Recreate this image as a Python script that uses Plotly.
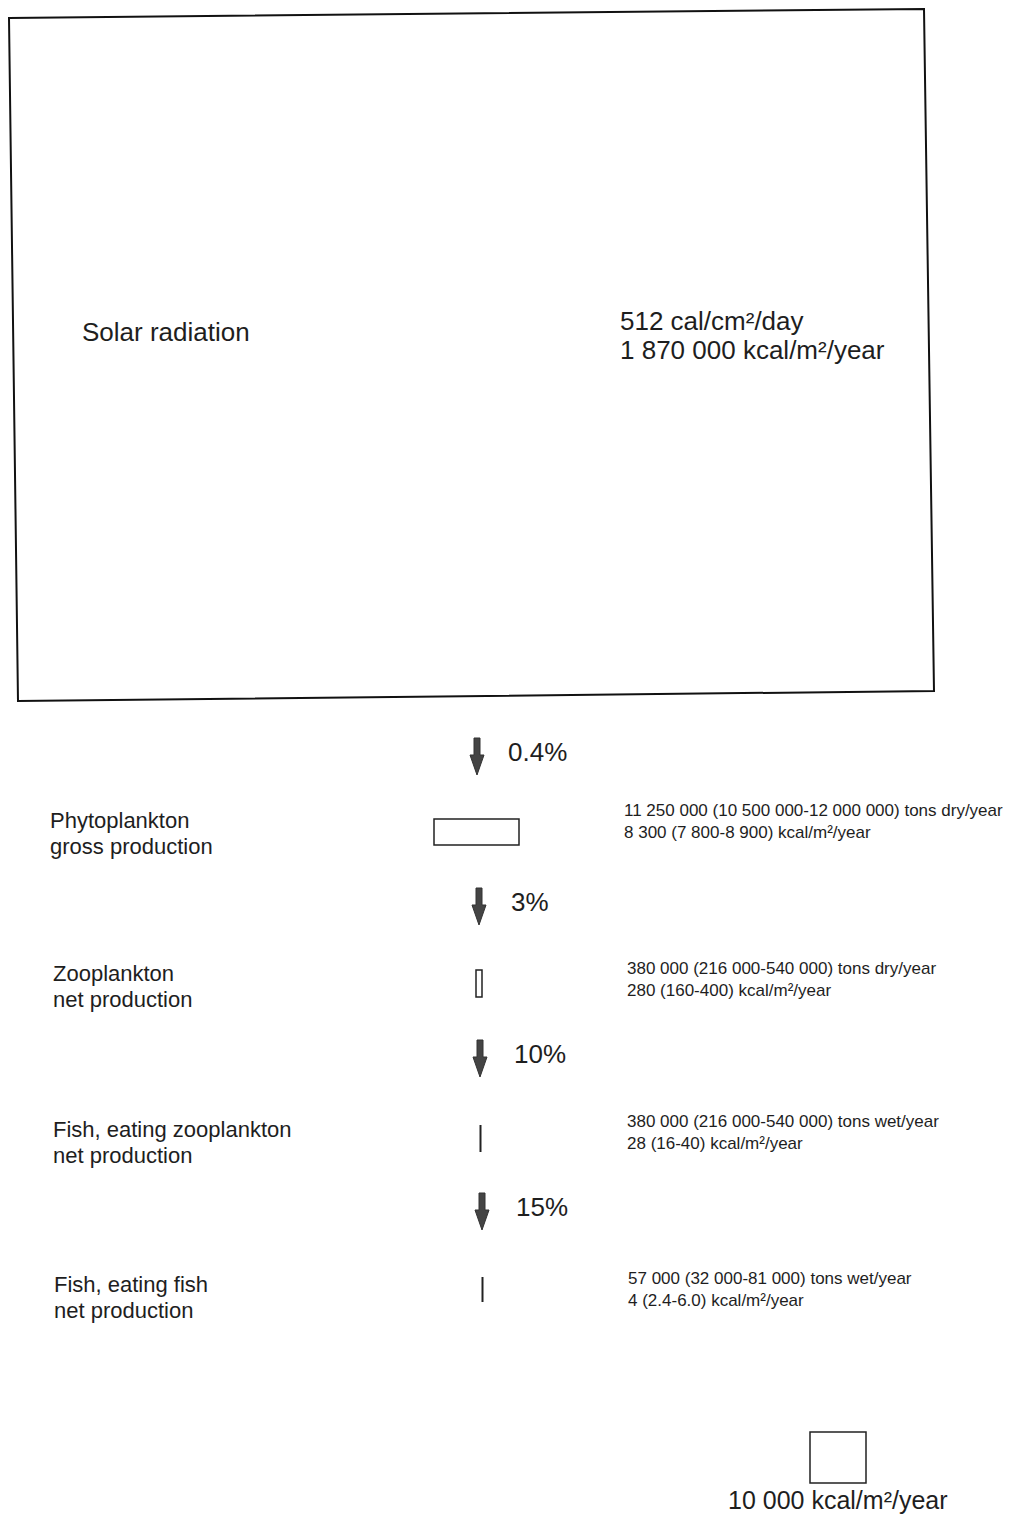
import plotly.graph_objects as go

# ---- data ---------------------------------------------------------------
solar_cal_cm2_day = 512
solar_kcal_m2_year = 1870000

levels = ["Phytoplankton", "Zooplankton", "Fish, eating zooplankton", "Fish, eating fish"]
level_kind = ["gross production", "net production", "net production", "net production"]
transfer_pct = ["0.4%", "3%", "10%", "15%"]

tons = [11250000, 380000, 380000, 57000]
tons_low = [10500000, 216000, 216000, 32000]
tons_high = [12000000, 540000, 540000, 81000]
tons_unit = ["tons dry/year", "tons dry/year", "tons wet/year", "tons wet/year"]

kcal = [8300, 280, 28, 4]
kcal_low = [7800, 160, 16, 2.4]
kcal_high = [8900, 400, 40, 6.0]

scale_kcal = 10000

W, H = 1011, 1522
PAD = 8  # page body margin
FONT = "Liberation Sans, Arial, sans-serif"
INK = "#1e1e1e"


def fmt(v):
    if isinstance(v, float):
        return f"{v:.1f}"
    return f"{v:,}".replace(",", " ")


fig = go.Figure()
fig.add_trace(go.Scatter(x=[PAD, W - PAD], y=[PAD, H - PAD], mode="markers",
                         marker=dict(opacity=0), hoverinfo="skip", showlegend=False))

shapes = []
ann = []


def text(x, y, s, size, anchor="left"):
    ann.append(dict(x=x, y=y, xref="x", yref="y", text=s, showarrow=False,
                    xanchor=anchor, yanchor="middle",
                    font=dict(family=FONT, size=size, color=INK)))


# ── Solar radiation box (scanned slightly rotated) ───────────────────────
shapes.append(dict(type="path", xref="x", yref="y",
                   path="M 9 18 L 924 9 L 934 691 L 18 701 Z",
                   line=dict(color="#111", width=2), fillcolor="rgba(0,0,0,0)"))
text(80, 332, "Solar radiation", 26)
text(618, 321, f"{solar_cal_cm2_day} cal/cm²/day", 26)
text(618, 350, f"{fmt(solar_kcal_m2_year)} kcal/m²/year", 26)

# ── trophic levels ───────────────────────────────────────────────────────
arrow_y = [738, 888, 1040, 1193]
arrow_x = [477, 479, 480, 482]
pct_x = [506, 509, 512, 514]
level_y = [833, 986, 1142, 1297]
label_x = [48, 51, 51, 52]
info_x = [622, 625, 625, 626]
info_y = [810, 968, 1121, 1278]

# box geometry (x0, x1, y0, y1)
boxes = [(434, 519, 819, 845), (476, 482, 970, 997), (480, 482, 1125, 1152), (482, 483, 1277, 1302)]

for i in range(4):
    ax, ay = arrow_x[i], arrow_y[i]
    # shaft + head
    shapes.append(dict(type="path", xref="x", yref="y",
                       path=f"M {ax-3} {ay} L {ax+3} {ay} L {ax+3} {ay+17} L {ax+7} {ay+17} "
                            f"L {ax} {ay+37} L {ax-7} {ay+17} L {ax-3} {ay+17} Z",
                       line=dict(color="#333", width=1), fillcolor="#444"))
    text(pct_x[i], ay + 14, transfer_pct[i], 26)

    text(label_x[i], level_y[i] - 13, levels[i], 22)
    text(label_x[i], level_y[i] + 13, level_kind[i], 22)

    x0, x1, y0, y1 = boxes[i]
    if x1 - x0 > 2:
        shapes.append(dict(type="rect", xref="x", yref="y", x0=x0, x1=x1, y0=y0, y1=y1,
                           line=dict(color="#222", width=1.5), fillcolor="rgba(0,0,0,0)"))
    else:
        shapes.append(dict(type="line", xref="x", yref="y", x0=x0 + 0.5, x1=x0 + 0.5, y0=y0, y1=y1,
                           line=dict(color="#222", width=2)))

    text(info_x[i], info_y[i],
         f"{fmt(tons[i])} ({fmt(tons_low[i])}-{fmt(tons_high[i])}) {tons_unit[i]}", 17)
    text(info_x[i], info_y[i] + 22,
         f"{fmt(kcal[i])} ({fmt(kcal_low[i])}-{fmt(kcal_high[i])}) kcal/m²/year", 17)

# ── scale square ─────────────────────────────────────────────────────────
shapes.append(dict(type="rect", xref="x", yref="y", x0=810, x1=866, y0=1432, y1=1483,
                   line=dict(color="#222", width=1.5), fillcolor="rgba(0,0,0,0)"))
text(838, 1500, f"{fmt(scale_kcal)} kcal/m²/year", 25, anchor="center")

fig.update_layout(
    width=W - 2 * PAD, height=H - 2 * PAD,
    margin=dict(l=0, r=0, t=0, b=0),
    paper_bgcolor="white", plot_bgcolor="white",
    xaxis=dict(range=[PAD, W - PAD], visible=False, fixedrange=True),
    yaxis=dict(range=[H - PAD, PAD], visible=False, fixedrange=True),
    shapes=shapes, annotations=ann,
    showlegend=False,
)

fig.write_html("out.html")
